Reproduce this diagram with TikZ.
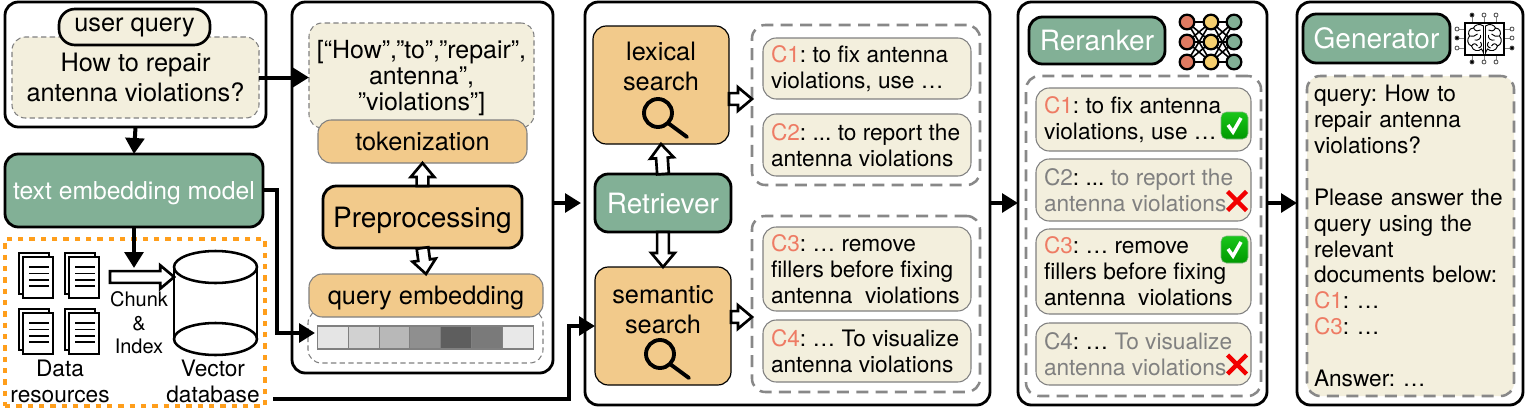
\documentclass[tikz,border=0pt]{standalone}
\usepackage{fontspec}
\setmainfont{TeX Gyre Heros}
\frenchspacing
\usetikzlibrary{arrows.meta,calc}
\definecolor{cream}{HTML}{F3EFDD}
\definecolor{sand}{HTML}{F2CA8B}
\definecolor{sage}{HTML}{82B096}
\definecolor{coral}{HTML}{EE7B64}
\definecolor{mute}{HTML}{808080}
\definecolor{dashgray}{HTML}{888888}
\definecolor{nnred}{HTML}{E07B62}
\definecolor{nnyel}{HTML}{F6CF6E}
\definecolor{dashorange}{HTML}{FF9E1B}
\newcommand{\pxbox}[7][]{%
  \pgfmathsetmacro\pxcx{(#3+#5)/2}\pgfmathsetmacro\pxcy{(#4+#6)/2}%
  \pgfmathsetmacro\pxw{(#5-#3)*0.75}\pgfmathsetmacro\pxh{(#6-#4)*0.75}%
  \node[minimum width=\pxw pt,minimum height=\pxh pt,inner sep=0pt,outer sep=0pt,#1] (#2) at (\pxcx,\pxcy) {#7};}
\newcommand{\cardbox}[7][]{%
  \pgfmathsetmacro\pxtw{(#5-#3)*0.75}%
  \pxbox[card,#1]{#2}{#3}{#4}{#5}{#6}{\parbox{\pxtw pt}{\raggedright\leftskip=6pt #7}}}
\newcommand{\lowtx}[1]{\raisebox{-0.36em}[0pt][0pt]{#1}}
\newcommand{\harrow}[2]{%
  \coordinate (ha) at (#1);\coordinate (hb) at (#2);
  \coordinate (hc) at ($(hb)!10.5pt!(ha)$);
  \draw[hollow] ($(ha)!4.4pt!90:(hb)$) -- ($(hc)!4.4pt!90:(hb)$) -- ($(hc)!8.8pt!90:(hb)$) -- (hb)
    -- ($(hc)!8.8pt!-90:(hb)$) -- ($(hc)!4.4pt!-90:(hb)$) -- ($(ha)!4.4pt!-90:(hb)$) -- cycle;}
\newcommand{\ctag}[1]{\textcolor{coral}{#1}}
\newcommand{\gtx}[1]{\textcolor{mute}{#1}}
\newcommand{\docicon}[2]{%
  \begin{scope}[shift={(#1,#2)}]
    \draw[docline,fill=white] (0,0) rectangle (30,41);
    \draw[docline,fill=white] (4,4) rectangle (34,45);
    \foreach \ly in {14,20.5,27,33}{\draw[line width=0.8pt] (10,\ly) -- (30,\ly);}
  \end{scope}}
\newcommand{\lens}[2]{%
  \begin{scope}[shift={(#1,#2)}]
    \draw[line width=2.9pt] (0,0) circle [radius=14];
    \draw[line width=2.9pt,line cap=round] (10,10) -- (29,24);
  \end{scope}}
\newcommand{\okmark}[2]{%
  \begin{scope}[shift={(#1,#2)}]
    \shade[top color=green!75!black!90,bottom color=green!60!black,rounded corners=4pt,draw=green!45!black!50,line width=.4pt] (0,0) rectangle (27,27);
    \draw[white,line width=2.6pt] (7,13) -- (12,20) -- (20,6);
  \end{scope}}
\newcommand{\nomark}[2]{%
  \begin{scope}[shift={(#1,#2)}]
    \draw[red!95!black,line width=3.3pt] (-9.5,-9.5) -- (9.5,9.5) (9.5,-9.5) -- (-9.5,9.5);
  \end{scope}}
\newcommand{\brainlobe}{%
  \draw[line width=.7pt] (-1,-13) .. controls (-5,-16) and (-10,-14) .. (-11,-11)
    .. controls (-16,-11) and (-17,-5) .. (-15,-3) .. controls (-18,0) and (-17,6) .. (-13,7)
    .. controls (-12,12) and (-6,13) .. (-3,10) .. controls (-2,12) and (-1,13) .. (-1,14) -- cycle;
  \draw[line width=.7pt] (-11,-11) .. controls (-9,-7) and (-6,-8) .. (-4,-9)
    (-15,-3) .. controls (-12,-2) and (-9,-3) .. (-7,-5)
    (-4,-4) .. controls (-3,-1) and (-6,2) .. (-10,1)
    (-13,7) .. controls (-11,4) and (-9,4) .. (-7,7)
    (-4,3) .. controls (-2,6) and (-3,8) .. (-6,9);}
\tikzset{
  outerbox/.style={draw=black,line width=2.1pt,rounded corners=10pt,fill=white},
  greenbox/.style={draw=black,line width=2.1pt,rounded corners=10pt,fill=sage,text=white},
  softbox/.style={draw=gray,line width=.8pt,rounded corners=10pt,fill=sand},
  searchbox/.style={draw=black,line width=.9pt,rounded corners=10pt,fill=sand},
  thindash/.style={draw=gray,line width=.8pt,dash pattern=on 4pt off 2.5pt,rounded corners=10pt},
  thickdash/.style={draw=dashgray,line width=1.9pt,dash pattern=on 9pt off 5.5pt,rounded corners=10pt},
  card/.style={draw=gray,line width=.8pt,rounded corners=10pt,fill=cream,font=\fontsize{17}{19.5}\selectfont},
  conn/.style={draw=black,line width=3pt,-{Triangle[length=12pt,width=14pt]}},
  hollow/.style={draw=black,line width=2pt,fill=white,line join=miter},
  docline/.style={draw=black,line width=.8pt},
  nnode/.style={circle,draw=black,line width=1.7pt,minimum size=11pt,inner sep=0pt,outer sep=0pt},
  label/.style={font=\fontsize{17}{19.5}\selectfont,align=center,inner sep=0pt},
}
\begin{document}
\begin{tikzpicture}[x=0.75pt,y=-0.75pt]
\useasboundingbox (0,0) rectangle (1525,414);
% outer frames
\pxbox[outerbox]{boxA}{5}{2}{266}{127}{}
\pxbox[outerbox]{boxB}{292}{2}{553}{373}{}
\pxbox[outerbox]{boxC}{585}{2}{990}{405}{}
\pxbox[outerbox]{boxD}{1018}{2}{1267}{405}{}
\pxbox[outerbox]{boxE}{1297}{2}{1523}{405}{}
% query
\pxbox[thindash,fill=cream,align=center,font=\fontsize{19}{22.5}\selectfont]{qdash}{12}{37}{259}{118}{\rule{0pt}{8pt}How to repair\\antenna violations?}
\pxbox[draw=black,line width=2pt,rounded corners=12pt,fill=cream,font=\fontsize{19}{22}\selectfont]{upill}{59}{9}{210}{45}{user query}
\pxbox[greenbox,font=\fontsize{18.5}{22}\selectfont]{embed}{5}{154}{263}{227}{\lowtx{text embedding model}}
% data area
\pxbox[draw=dashorange,line width=2.5pt,dash pattern=on 4pt off 4.5pt]{orangebox}{5}{239}{265}{406}{}
\docicon{19}{253}\docicon{65}{253}\docicon{19}{309}\docicon{65}{309}
\node[label] (datalbl) at (60,381) {Data\\resources};
\node[label] (vectorlbl) at (213,381) {Vector\\database};
\node[label,font=\fontsize{15}{17.6}\selectfont] (chunk) at (139,323) {Chunk\\\&\\Index};
\coordinate (docout) at (110,277);
\node[minimum width=62pt,minimum height=78pt,inner sep=0pt,outer sep=0pt] (db) at (215.5,303) {};
\draw[line width=1.9pt] (174,267) -- (174,339) (257,267) -- (257,339);
\draw[line width=1.9pt] (215.5,267) ellipse [x radius=41.5,y radius=16];
\draw[line width=1.9pt] (215.5,339) ellipse [x radius=41.5,y radius=16];
\harrow{docout}{db.west |- docout}
% preprocessing column
\pxbox[thindash,fill=cream]{tokdash}{309}{23}{534}{128}{}
\node[align=center,inner sep=0pt,font=\fontsize{18.7}{19.4}\selectfont] (toktext) at (421.5,78) {[“How”,”to”,”repair”,\\antenna”,\\”violations”]};
\pxbox[softbox,font=\fontsize{19}{22}\selectfont]{tok}{318}{120}{527}{163}{\lowtx{tokenization}}
\pxbox[searchbox,line width=2.1pt,font=\fontsize{21}{25}\selectfont]{prep}{323}{186}{522}{248}{\lowtx{Preprocessing}}
\pxbox[thindash]{qedash}{308}{310}{543}{363}{}
\pxbox[softbox,font=\fontsize{19}{22}\selectfont]{qemb}{309}{274}{543}{317}{\lowtx{query embedding}}
\foreach \i/\g in {0/10,1/18,2/28,3/44,4/63,5/52,6/9}{
  \pgfmathsetmacro\cx{317.5+30.8*\i}\pgfmathsetmacro\cxe{\cx+30.8}
  \pxbox[draw=gray,line width=.8pt,fill=black!\g]{cell\i}{\cx}{326}{\cxe}{349}{}
}
\harrow{prep.north}{tok.south}
\harrow{prep.south}{qemb.north}
% retriever column
\pxbox[searchbox,font=\fontsize{19}{22.5}\selectfont]{lex}{593}{26}{729}{144}{\raisebox{9.5pt}[0pt][0pt]{\parbox{90pt}{\centering lexical\\search}}}
\pxbox[searchbox,font=\fontsize{19}{22.5}\selectfont]{sem}{595}{267}{731}{385}{\raisebox{8pt}[0pt][0pt]{\parbox{90pt}{\centering semantic\\search}}}
\lens{658}{113}\lens{660}{354}
\pxbox[greenbox,font=\fontsize{21}{24}\selectfont]{retr}{595}{174}{731}{232}{\lowtx{Retriever}}
\pxbox[thickdash]{topdash}{752}{25}{980}{185}{}
\pxbox[thickdash]{botdash}{752}{216}{980}{392}{}
\cardbox{c1}{763}{38}{971}{99}{\ctag{C1}: to fix antenna\\violations, use …}
\cardbox{c2}{763}{114}{971}{176}{\ctag{C2}: ... to report the\\antenna violations}
\cardbox{c3}{763}{227}{971}{311}{\ctag{C3}: … remove\\fillers before fixing\\antenna~~violations}
\cardbox{c4}{763}{320}{971}{382}{\ctag{C4}: … To visualize\\antenna violations}
\harrow{retr.north}{lex.south}
\harrow{retr.south}{sem.north}
\coordinate (lexout) at (729,99);
\coordinate (semout) at (731,317);
\harrow{lexout}{topdash.west |- lexout}
\harrow{semout}{botdash.west |- semout}
% reranker column
\pxbox[greenbox,font=\fontsize{21}{25}\selectfont]{rerank}{1029}{17}{1165}{64}{\lowtx{Reranker}}
\foreach \col/\cx/\cc in {a/1187/nnred,b/1211/nnyel,c/1234/sage}{
  \foreach \row/\cy in {1/22,2/42,3/62}{
    \node[nnode,fill=\cc] (n\col\row) at (\cx,\cy) {};
  }
}
\foreach \p in {1,2,3}{\foreach \q in {1,2,3}{
  \draw[line width=1.2pt] (na\p) -- (nb\q);
  \draw[line width=1.2pt] (nb\p) -- (nc\q);
}}
\pxbox[thickdash]{rrdash}{1026}{76}{1261}{396}{}
\cardbox{r1}{1036}{88}{1251}{151}{\ctag{C1}: to fix antenna\\violations, use …}
\cardbox{r2}{1036}{159}{1251}{221}{\gtx{C2}: ... \gtx{to report the}\\\gtx{antenna violations}}
\cardbox{r3}{1036}{229}{1251}{314}{\ctag{C3}: … remove\\fillers before fixing\\antenna~~violations}
\cardbox{r4}{1036}{323}{1251}{385}{\gtx{C4}: … \gtx{To visualize}\\\gtx{antenna violations}}
\okmark{1221}{112}\okmark{1221}{236}
\nomark{1237}{201}\nomark{1237}{364.5}
% generator column
\pxbox[greenbox,font=\fontsize{21}{25}\selectfont]{gen}{1303}{14}{1450}{63}{\lowtx{Generator}}
\foreach \px/\pk in {1472/black,1484/white,1496/white}{
  \draw[line width=.6pt,draw=gray] (\px,23) -- (\px,16);
  \draw[line width=.6pt,draw=black!70,fill=\pk] (\px,15) circle [radius=2];
}
\foreach \px/\pk in {1472/black,1484/white,1496/white}{
  \draw[line width=.6pt,draw=gray] (\px,55) -- (\px,61);
  \draw[line width=.6pt,draw=black!70,fill=\pk] (\px,62) circle [radius=2];
}
\foreach \py/\pk in {29/white,38/black,48/white}{
  \draw[line width=.6pt,draw=gray] (1465,\py) -- (1459,\py);
  \draw[line width=.6pt,draw=black!70,fill=\pk] (1457,\py) circle [radius=2];
}
\foreach \py/\pk in {29/white,38/white,48/black}{
  \draw[line width=.6pt,draw=gray] (1504,\py) -- (1510,\py);
  \draw[line width=.6pt,draw=black!70,fill=\pk] (1512,\py) circle [radius=2];
}
\draw[line width=.9pt,fill=white] (1465,23) rectangle (1504,55);
\begin{scope}[shift={(1484.5,39)}]\brainlobe\end{scope}
\begin{scope}[shift={(1484.5,39)},xscale=-1]\brainlobe\end{scope}
\pgfmathsetmacro\gentw{(1514-1307-14)*0.75}
\pxbox[thickdash,fill=cream,text width=\gentw pt,align=left,font=\fontsize{17}{19.4}\selectfont]{gtext}{1307}{76}{1514}{396}{query: How to\\repair antenna\\violations?\\\mbox{}\\Please answer the\\query using the\\relevant\\documents below:\\\ctag{C1}: …\\\ctag{C3}: …\\\mbox{}\\Answer: …}
% connectors
\draw[conn] (boxA.south) -- (embed.north);
\coordinate (dbfeed) at (134,268);
\draw[conn] (embed.south) -- (dbfeed);
\draw[conn] (qdash.east) -- (qdash.east -| tokdash.west);
\coordinate (embout) at (263,190);
\coordinate (cellin) at (315,333);
\draw[conn] (embout) -| (277,333) -- (cellin);
\draw[conn,shorten >=3pt] (boxB.east |- retr.west) -- (boxC.west |- retr.west);
\coordinate (dbout) at (273,399);
\coordinate (semin) at (sem.west |- 0,326);
\draw[conn] (dbout) -| (569,326) -- (semin);
\draw[conn] (boxC.east |- retr.west) -- (boxD.west |- retr.west);
\draw[conn] (boxD.east |- retr.west) -- (boxE.west |- retr.west);
\end{tikzpicture}
\end{document}
